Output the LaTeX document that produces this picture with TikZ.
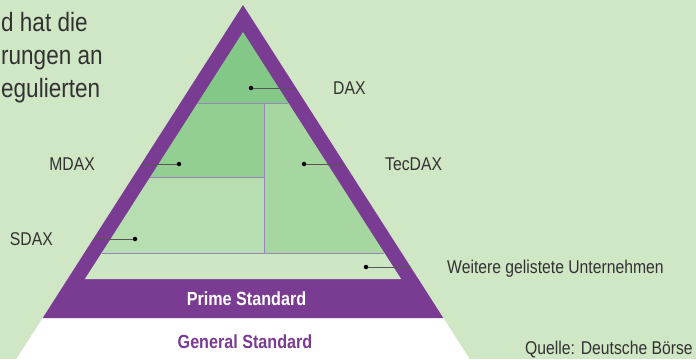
\documentclass[tikz,border=0pt]{standalone}
\usepackage{fontspec}
\setmainfont{Liberation Sans}[FakeStretch=0.85]
\usepackage{color}
\usepackage{tikz}

\definecolor{bggreen}{RGB}{208,231,198}
\definecolor{daxgreen}{RGB}{132,200,135}
\definecolor{mdaxgreen}{RGB}{147,207,146}
\definecolor{tecgreen}{RGB}{166,215,161}
\definecolor{sdaxgreen}{RGB}{182,222,176}
\definecolor{restgreen}{RGB}{205,231,197}
\definecolor{pyrpurple}{RGB}{122,60,146}
\definecolor{linepurple}{RGB}{156,132,188}
\definecolor{textgray}{RGB}{50,50,50}
\definecolor{leadgray}{RGB}{85,85,85}

\begin{document}
\begin{tikzpicture}[x=1pt,y=-1pt,
  lbl/.style={inner sep=0pt,text=textgray,font=\fontsize{18.5}{20}\selectfont},
  seglabel/.style={inner sep=0pt,font=\bfseries\fontsize{19}{21}\selectfont},
  introtext/.style={inner sep=0pt,text=textgray,anchor=base west,font=\fontsize{26.5}{33}\selectfont},
  leader/.style={draw=leadgray,line width=0.6pt},
  dot/.style={circle,fill=black,inner sep=0pt,minimum size=4.5pt},
  divline/.style={draw=linepurple,line width=0.9pt}]
\useasboundingbox (0,0) rectangle (696,359);
% objects at depth 100:
\path[fill=bggreen] (0,0) rectangle (696,359);
% objects at depth 90:
\path[fill=white] (42.7,318) -- (443.3,318) -- (473.4,365) -- (12.6,365) -- cycle;
\path[fill=pyrpurple] (243,5) -- (443.3,318) -- (42.7,318) -- cycle;
% objects at depth 75:
\path[fill=daxgreen] (243,32) -- (288.4,103) -- (197.6,103) -- cycle;
\path[fill=mdaxgreen] (197.6,103) -- (264,103) -- (264,177) -- (150.2,177) -- cycle;
\path[fill=sdaxgreen] (150.2,177) -- (264,177) -- (264,253) -- (101.6,253) -- cycle;
\path[fill=tecgreen] (264,103) -- (288.4,103) -- (384.4,253) -- (264,253) -- cycle;
\path[fill=restgreen] (101.6,253) -- (384.4,253) -- (401.1,279) -- (84.9,279) -- cycle;
\path[divline] (197.6,103) -- (288.4,103);
\path[divline] (150.2,177) -- (264,177);
\path[divline] (101.6,253) -- (384.4,253);
\path[divline] (264,103) -- (264,253);
% objects at depth 50:
\node[dot] (daxdot) at (251,88) {};
\node[dot] (tecdot) at (304,164) {};
\node[dot] (mdaxdot) at (179,164) {};
\node[dot] (sdaxdot) at (135,239) {};
\node[dot] (restdot) at (366,267) {};
\coordinate (daxend) at (296.1,88);
\coordinate (tecend) at (344.8,164);
\coordinate (mdaxend) at (141.2,164);
\coordinate (sdaxend) at (93.2,239);
\coordinate (restend) at (410.7,267);
\draw[leader] (daxdot) -- (daxend);
\draw[leader] (tecdot) -- (tecend);
\draw[leader] (mdaxdot) -- (mdaxend);
\draw[leader] (sdaxdot) -- (sdaxend);
\draw[leader] (restdot) -- (restend);
% labels:
\node[lbl,anchor=base west] (dax) at (333,94.5) {DAX};
\node[lbl,anchor=base west] (tecdax) at (385,170.5) {TecDAX};
\node[lbl,anchor=base east] (mdax) at (95,170.5) {MDAX};
\node[lbl,anchor=base east] (sdax) at (53,245.5) {SDAX};
\node[lbl,anchor=base west] (rest) at (447,273.5) {Weitere gelistete Unternehmen};
\node[lbl,anchor=base west] (quelle) at (525,354) {Quelle: Deutsche Börse};
\node[seglabel,text=white,anchor=base] (prime) at (246.5,305) {Prime Standard};
\node[seglabel,text=pyrpurple,anchor=base] (general) at (245,348) {General Standard};
% text at left:
\node[introtext] (line1) at (1,31) {d hat die};
\node[introtext] (line2) at (1,64) {rungen an};
\node[introtext] (line3) at (1,97) {egulierten};
\end{tikzpicture}
\end{document}
